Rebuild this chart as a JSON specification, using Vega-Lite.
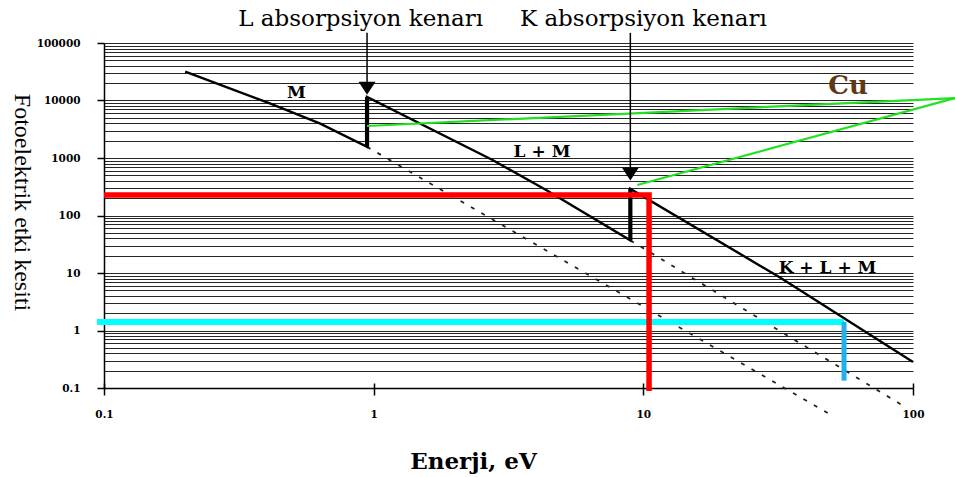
{
  "$schema": "https://vega.github.io/schema/vega-lite/v6.json",
  "width": 809,
  "height": 345,
  "autosize": {"type": "none"},
  "padding": {"left": 104, "top": 43, "right": 42, "bottom": 89},
  "background": "white",
  "config": {"view": {"stroke": null}},
  "datasets": {
    "curve": [
      {"o": 1, "x": 0.2, "y": 31700},
      {"o": 2, "x": 0.412, "y": 8930},
      {"o": 3, "x": 0.631, "y": 4010},
      {"o": 4, "x": 0.945, "y": 1560},
      {"o": 5, "x": 0.945, "y": 11500},
      {"o": 6, "x": 2.76, "y": 922},
      {"o": 7, "x": 4.36, "y": 277},
      {"o": 8, "x": 8.95, "y": 37},
      {"o": 9, "x": 8.95, "y": 290},
      {"o": 10, "x": 31.9, "y": 8.51},
      {"o": 11, "x": 100, "y": 0.283}
    ],
    "dashed": [
      {"g": "M", "x": 0.945, "y": 1560},
      {"g": "M", "x": 49.7, "y": 0.0339},
      {"g": "LM", "x": 8.95, "y": 37},
      {"g": "LM", "x": 91, "y": 0.0506}
    ],
    "cu": [
      {"g": "L", "x": 0.945, "y": 3600},
      {"g": "L", "x": 143, "y": 11040},
      {"g": "K", "x": 9.5, "y": 339},
      {"g": "K", "x": 143, "y": 11040}
    ],
    "edges": [
      {"x": 0.945, "y": 1560, "y2": 11500},
      {"x": 8.95, "y": 37, "y2": 290}
    ],
    "arrows": [
      {"x": 0.945, "y": 150000, "y2": 16300},
      {"x": 8.95, "y": 150000, "y2": 527}
    ],
    "heads": [
      {"x": 0.945, "y": 16300},
      {"x": 8.95, "y": 527}
    ],
    "red": [
      {"o": 1, "x": 0.1, "y": 227.5},
      {"o": 2, "x": 10.5, "y": 227.5},
      {"o": 3, "x": 10.5, "y": 0.0887}
    ],
    "cyan": [{"x": 0.0942, "x2": 55.5, "y": 1.406}],
    "blue": [{"x": 55.5, "y": 1.406, "y2": 0.134}],
    "top": [
      {"x": 0.895, "y": 197000, "text": "L absorpsiyon kenarı"},
      {"x": 10, "y": 197000, "text": "K absorpsiyon kenarı"}
    ],
    "shell": [
      {"x": 0.517, "y": 10900, "text": "M"},
      {"x": 4.21, "y": 1030, "text": "L + M"},
      {"x": 48.2, "y": 10, "text": "K + L + M"}
    ],
    "element": [{"x": 57.4, "y": 12970, "text": "Cu"}]
  },
  "encoding": {
    "x": {"field": "x", "type": "quantitative", "scale": {"type": "log", "domain": [0.1, 100], "nice": false}, "axis": null},
    "y": {"field": "y", "type": "quantitative", "scale": {"type": "log", "domain": [0.1, 100000], "nice": false}, "axis": null}
  },
  "layer": [
    {
      "data": {"name": "dashed"},
      "mark": {"type": "line", "color": "#222222", "strokeWidth": 1.8, "strokeDash": [4, 8], "clip": false},
      "encoding": {
        "detail": {"field": "g"},
        "x": {"field": "x", "type": "quantitative", "scale": {"type": "log", "domain": [0.1, 100], "nice": false},
          "axis": {
            "orient": "bottom", "values": [0.1, 1, 10, 100], "grid": false,
            "domain": true, "domainColor": "#000000", "domainWidth": 1.5,
            "ticks": true, "tickSize": 7, "tickColor": "#000000", "tickWidth": 1.5,
            "labelExpr": "datum.value < 1 ? '0.1' : format(datum.value, 'd')",
            "labelFont": "DejaVu Serif", "labelFontWeight": "bold", "labelFontSize": 10.5, "labelColor": "#000000",
            "labelPadding": 14, "labelOverlap": false, "labelFlush": false,
            "title": "Enerji, eV", "titleFont": "DejaVu Serif", "titleFontWeight": "bold", "titleFontSize": 23,
            "titleColor": "#000000", "titleX": 369, "titleY": 80, "titleAlign": "center", "titleBaseline": "alphabetic"
          }
        },
        "y": {"field": "y", "type": "quantitative", "scale": {"type": "log", "domain": [0.1, 100000], "nice": false},
          "axis": {
            "orient": "left",
            "values": [0.1,0.2,0.3,0.4,0.5,0.6,0.7,0.8,0.9,1,2,3,4,5,6,7,8,9,10,20,30,40,50,60,70,80,90,100,200,300,400,500,600,700,800,900,1000,2000,3000,4000,5000,6000,7000,8000,9000,10000,20000,30000,40000,50000,60000,70000,80000,90000,100000],
            "grid": true, "gridColor": "#262626", "gridWidth": 1, "gridOpacity": 1,
            "domain": false, "ticks": false, "labels": false, "title": null
          }
        }
      }
    },
    {
      "data": {"name": "curve"},
      "mark": {"type": "line", "color": "#000000", "strokeWidth": 2.4, "strokeJoin": "miter", "clip": false},
      "encoding": {
        "order": {"field": "o", "type": "quantitative"},
        "x": {"field": "x", "type": "quantitative", "scale": {"type": "log", "domain": [0.1, 100], "nice": false},
          "axis": {
            "orient": "bottom", "values": [0.1, 1, 10, 100], "grid": false, "domain": false, "labels": false,
            "ticks": true, "tickSize": 5, "tickColor": "#000000", "tickWidth": 1.5, "offset": -5, "title": null
          }
        },
        "y": {"field": "y", "type": "quantitative", "scale": {"type": "log", "domain": [0.1, 100000], "nice": false},
          "axis": {
            "orient": "left",
            "values": [0.1, 1, 10, 100, 1000, 10000, 100000],
            "grid": false,
            "domain": true, "domainColor": "#000000", "domainWidth": 1.5,
            "ticks": true, "tickSize": 7, "tickColor": "#000000", "tickWidth": 1.5,
            "labelExpr": "datum.value < 1 ? '0.1' : format(datum.value, 'd')",
            "labelFont": "DejaVu Serif", "labelFontWeight": "bold", "labelFontSize": 10.5, "labelColor": "#000000",
            "labelPadding": 17, "labelOverlap": false, "labelFlush": false, "labelBaseline": "middle",
            "title": "Fotoelektrik etki kesiti", "titleFont": "Liberation Serif", "titleFontSize": 24, "titleFontWeight": "normal",
            "titleColor": "#000000", "titleAngle": 90, "titleX": -83, "titleY": 159, "titleAlign": "center", "titleBaseline": "middle"
          }
        }
      }
    },
    {
      "data": {"name": "edges"},
      "mark": {"type": "rule", "color": "#000000", "strokeWidth": 4.2},
      "encoding": {"y2": {"field": "y2"}}
    },
    {
      "data": {"name": "cu"},
      "mark": {"type": "line", "color": "#22e022", "strokeWidth": 2.2, "clip": false},
      "encoding": {"detail": {"field": "g"}}
    },
    {
      "data": {"name": "cyan"},
      "mark": {"type": "rule", "color": "#00ffff", "strokeWidth": 6},
      "encoding": {"x2": {"field": "x2"}}
    },
    {
      "data": {"name": "blue"},
      "mark": {"type": "rule", "color": "#22b0ee", "strokeWidth": 5},
      "encoding": {"y2": {"field": "y2"}}
    },
    {
      "data": {"name": "red"},
      "mark": {"type": "line", "color": "#ff0000", "strokeWidth": 5.5, "strokeJoin": "miter", "clip": false},
      "encoding": {"order": {"field": "o", "type": "quantitative"}}
    },
    {
      "data": {"name": "arrows"},
      "mark": {"type": "rule", "color": "#000000", "strokeWidth": 1.5},
      "encoding": {"y2": {"field": "y2"}}
    },
    {
      "data": {"name": "heads"},
      "mark": {"type": "point", "shape": "M-1,-0.76L1,-0.76L0,0.76Z", "size": 289, "filled": true, "color": "#000000", "opacity": 1}
    },
    {
      "data": {"name": "top"},
      "mark": {"type": "text", "font": "DejaVu Serif", "fontSize": 23, "color": "#000000", "align": "center", "baseline": "alphabetic"},
      "encoding": {"text": {"field": "text", "type": "nominal"}}
    },
    {
      "data": {"name": "shell"},
      "mark": {"type": "text", "font": "DejaVu Serif", "fontSize": 17, "fontWeight": "bold", "color": "#000000", "align": "center", "baseline": "alphabetic"},
      "encoding": {"text": {"field": "text", "type": "nominal"}}
    },
    {
      "data": {"name": "element"},
      "mark": {"type": "text", "font": "DejaVu Serif", "fontSize": 26, "fontWeight": "bold", "color": "#603913", "align": "center", "baseline": "alphabetic"},
      "encoding": {"text": {"field": "text", "type": "nominal"}}
    }
  ],
  "resolve": {"axis": {"x": "independent", "y": "independent"}}
}
